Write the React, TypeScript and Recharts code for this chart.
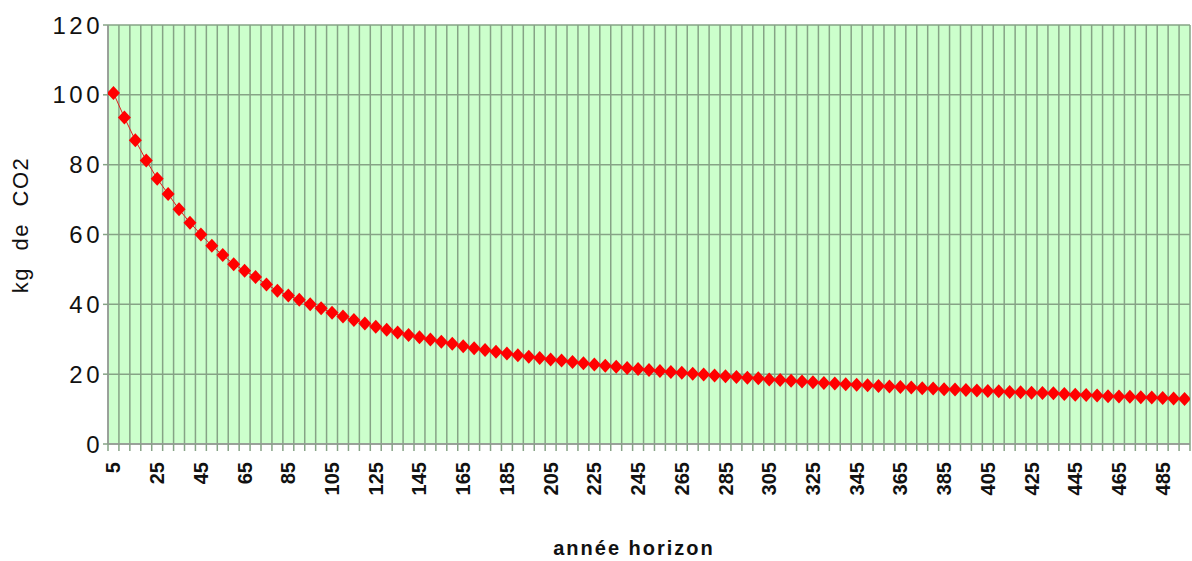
import { LineChart, Line, XAxis, YAxis, CartesianGrid, Label } from 'recharts';

const years = [
  5, 10, 15, 20, 25, 30, 35, 40, 45, 50,
  55, 60, 65, 70, 75, 80, 85, 90, 95, 100,
  105, 110, 115, 120, 125, 130, 135, 140, 145, 150,
  155, 160, 165, 170, 175, 180, 185, 190, 195, 200,
  205, 210, 215, 220, 225, 230, 235, 240, 245, 250,
  255, 260, 265, 270, 275, 280, 285, 290, 295, 300,
  305, 310, 315, 320, 325, 330, 335, 340, 345, 350,
  355, 360, 365, 370, 375, 380, 385, 390, 395, 400,
  405, 410, 415, 420, 425, 430, 435, 440, 445, 450,
  455, 460, 465, 470, 475, 480, 485, 490, 495,
];

const co2 = [
  100.5, 93.5, 87, 81.2, 76, 71.6, 67.2, 63.4, 60, 56.8,
  54.1, 51.5, 49.6, 47.8, 45.7, 43.9, 42.5, 41.3, 40, 38.9,
  37.6, 36.5, 35.5, 34.5, 33.6, 32.7, 31.9, 31.2, 30.6, 29.9,
  29.3, 28.7, 28, 27.4, 26.9, 26.4, 25.9, 25.4, 25, 24.6,
  24.2, 23.9, 23.5, 23.1, 22.8, 22.4, 22.1, 21.8, 21.5, 21.2,
  20.9, 20.6, 20.4, 20.1, 19.9, 19.6, 19.4, 19.2, 19, 18.8,
  18.5, 18.3, 18.1, 17.9, 17.7, 17.5, 17.3, 17.1, 17, 16.8,
  16.6, 16.5, 16.3, 16.2, 16, 15.9, 15.7, 15.6, 15.5, 15.3,
  15.2, 15.1, 14.9, 14.8, 14.7, 14.6, 14.5, 14.3, 14.1, 14,
  13.9, 13.7, 13.6, 13.5, 13.4, 13.3, 13.2, 13, 12.9,
];

const yTicks = [0, 20, 40, 60, 80, 100, 120];
const xLabelTicks = [5, 25, 45, 65, 85, 105, 125, 145, 165, 185, 205, 225, 245, 265, 285, 305, 325, 345, 365, 385, 405, 425, 445, 465, 485];

// category boundaries (grid lines sit between the yearly points)
const gridBounds = [...years.map((y) => y - 2.5), 497.5];

const data = years.map((year, i) => ({ year, value: co2[i] }));

const FONT = '"Liberation Sans", Arial, Helvetica, sans-serif';

const XTick = ({ x, y, payload }: any) => (
  <text
    transform={`translate(${x},${y}) rotate(-90)`}
    textAnchor="end"
    dominantBaseline="central"
    fontFamily={FONT}
    fontWeight="bold"
    fontSize={20}
    fill="#111"
  >
    {payload.value}
  </text>
);

const EmptyTick = () => <g />;

const Diamond = (props: any) => {
  const { cx, cy, index } = props;
  if (cx == null || cy == null) return <g key={`d-${index}`} />;
  return (
    <path
      key={`d-${index}`}
      d={`M${cx},${cy - 7}L${cx + 6.5},${cy}L${cx},${cy + 7}L${cx - 6.5},${cy}Z`}
      fill="#ff0000"
    />
  );
};

export default function App() {
  return (
    <div style={{ position: 'absolute', left: 0, top: 0, background: '#fff' }}>
      <LineChart width={1192} height={561} data={data} margin={{ top: 25, right: 2, left: 8, bottom: 0 }}>
        <CartesianGrid
          xAxisId="grid"
          yAxisId="y"
          fill="#ccffcc"
          fillOpacity={1}
          stroke="#86a386"
          strokeWidth={1.5}
        />
        <XAxis
          xAxisId="grid"
          dataKey="year"
          type="number"
          domain={[2.5, 497.5]}
          allowDataOverflow
          ticks={gridBounds}
          interval={0}
          height={1}
          tick={EmptyTick}
          tickSize={7}
          tickLine={{ stroke: '#86a386', strokeWidth: 1.5 }}
          axisLine={{ stroke: '#999', strokeWidth: 1.5 }}
        />
        <XAxis
          xAxisId="main"
          dataKey="year"
          type="number"
          domain={[2.5, 497.5]}
          allowDataOverflow
          ticks={xLabelTicks}
          interval={0}
          height={116}
          tick={<XTick />}
          tickSize={0}
          tickMargin={17}
          tickLine={false}
          axisLine={false}
        >
          <Label
            content={({ viewBox }: any) => (
              <text
                x={viewBox.x + viewBox.width / 2 - 15}
                y={555}
                textAnchor="middle"
                fontFamily={FONT}
                fontWeight="bold"
                fontSize={20}
                letterSpacing={2}
                fill="#111"
              >
                année horizon
              </text>
            )}
          />
        </XAxis>
        <YAxis
          yAxisId="y"
          type="number"
          domain={[0, 120]}
          ticks={yTicks}
          interval={0}
          width={100}
          tickSize={5}
          tickMargin={0}
          tick={{ fontFamily: FONT, fontSize: 24, letterSpacing: 3.5, fill: '#111' }}
          tickLine={{ stroke: '#86a386', strokeWidth: 1.5 }}
          axisLine={{ stroke: '#999', strokeWidth: 1.5 }}
        >
          <Label
            content={() => (
              <text
                transform="translate(28,225) rotate(-90)"
                textAnchor="middle"
                fontFamily={FONT}
                fontSize={22}
                letterSpacing={1.5}
                wordSpacing={9}
                fill="#111"
              >
                kg de CO2
              </text>
            )}
          />
        </YAxis>
        <Line
          xAxisId="main"
          yAxisId="y"
          type="linear"
          dataKey="value"
          stroke="#e02020"
          strokeWidth={1}
          dot={Diamond}
          activeDot={false}
          isAnimationActive={false}
        />
      </LineChart>
    </div>
  );
}
